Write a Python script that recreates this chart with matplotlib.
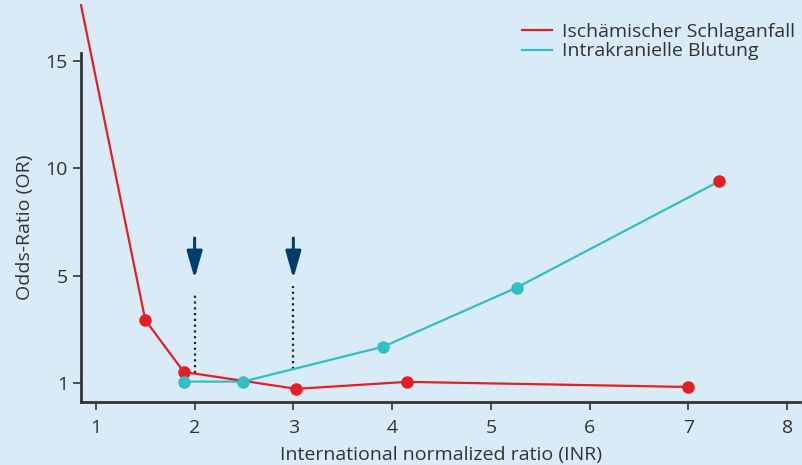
import numpy as np
import matplotlib
matplotlib.use("Agg")
from matplotlib import pyplot as plt

plt.rcParams['font.family'] = ['Open Sans', 'DejaVu Sans']

# Ischämischer Schlaganfall (red); first point has no marker, runs off the top
isch_x = [0.85, 1.5, 1.89, 3.03, 4.15, 7.0]
isch_y = [17.6, 3.35, 1.41, 0.78, 1.04, 0.85]

# Intrakranielle Blutung (cyan)
blut_x = [1.89, 2.49, 3.91, 5.26, 7.31]
blut_y = [1.05, 1.05, 2.35, 4.55, 9.39]

y_ticks = [1, 5, 10, 15]
x_ticks = [1, 2, 3, 4, 5, 6, 7, 8]
arrow_x = [2, 3]
dot_top = [4.36, 4.63]
dot_bottom = [1.37, 1.52]

bg = '#d9ebf6'
red = '#e31e26'
cyan = '#2fbfc5'
navy = '#003d6b'
ink = '#333333'


# the y axis has 1, 5, 10, 15 evenly spaced
def fwd(y):
    y = np.asarray(y, dtype=float)
    return np.where(y <= 5, (y - 1) * 1.25, y)


def inv(p):
    p = np.asarray(p, dtype=float)
    return np.where(p <= 5, p / 1.25 + 1, p)


fig = plt.figure(figsize=(8.03, 4.65), dpi=100, facecolor=bg)
ax = fig.add_axes([0.1009, 0.1355, 0.8954, 0.7505])
ax.set_facecolor(bg)
ax.set_yscale('function', functions=(fwd, inv))

ax.plot(isch_x, isch_y, color=red, lw=1.6, clip_on=False, zorder=3,
        label='Ischämischer Schlaganfall')
ax.plot(isch_x[1:], isch_y[1:], 'o', color=red, ms=8, zorder=4, clip_on=False)
ax.plot(blut_x, blut_y, color=cyan, lw=1.6, zorder=2, label='Intrakranielle Blutung')
ax.plot(blut_x[:-1], blut_y[:-1], 'o', color=cyan, ms=8, zorder=4)
# last marker of the cyan line is drawn red in the original
ax.plot(blut_x[-1:], blut_y[-1:], 'o', color=red, ms=8, zorder=4)

for xa, t, b in zip(arrow_x, dot_top, dot_bottom):
    ax.plot([xa, xa], [b, t], color='#222222', lw=1.6, ls=(0, (1, 1.6)), zorder=1)
    ax.annotate('', xy=(xa, 4.89), xytext=(xa, 6.75),
                arrowprops=dict(arrowstyle='-|>,head_length=1.65,head_width=0.47',
                                color=navy, lw=2.2, shrinkA=0, shrinkB=0))

ax.set_xlim(0.85, 8.13)
ax.set_ylim(0.29, 15.37)
ax.set_xticks(x_ticks)
ax.set_yticks(y_ticks)
ax.set_yticklabels([str(v) for v in y_ticks])
ax.yaxis.set_minor_locator(matplotlib.ticker.NullLocator())

for s in ['top', 'right']:
    ax.spines[s].set_visible(False)
for s in ['left', 'bottom']:
    ax.spines[s].set_color(ink)
    ax.spines[s].set_linewidth(2)
ax.tick_params(colors=ink, labelsize=14, length=6, width=1.2, direction='out')
ax.tick_params(axis='x', pad=6)

ax.set_xlabel('International normalized ratio (INR)', fontsize=14, color=ink, labelpad=7)
ax.set_ylabel('Odds-Ratio (OR)', fontsize=14, color=ink, labelpad=8)

fig.legend(loc='upper left', bbox_to_anchor=(0.650, 0.950), frameon=False, fontsize=14,
           borderpad=0, borderaxespad=0, handlelength=1.55, handletextpad=0.5,
           labelspacing=0.06, labelcolor=ink)

fig.savefig('out.png', dpi=100, facecolor=bg)
